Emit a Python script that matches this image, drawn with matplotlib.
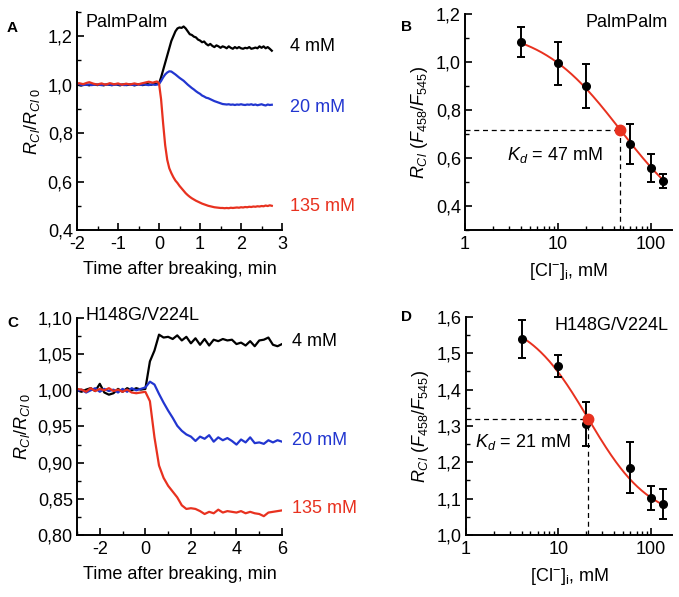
import numpy as np
import matplotlib
matplotlib.use('Agg')
import matplotlib.pyplot as plt
from matplotlib.ticker import MultipleLocator, FuncFormatter, LogLocator, NullFormatter

plt.rcParams['font.family'] = ['Liberation Sans', 'DejaVu Sans']
plt.rcParams['mathtext.fontset'] = 'custom'
plt.rcParams['mathtext.rm'] = 'Liberation Sans'
plt.rcParams['mathtext.it'] = 'Liberation Sans:italic'
plt.rcParams['font.size'] = 13
plt.rcParams['axes.unicode_minus'] = False

# ---- panel A data (PalmPalm traces), time in min ----
t_a = np.round(np.arange(-2.0, 2.751, 0.05), 2)
black_a = [1.000, 0.998, 0.996, 0.999, 1.001, 0.999, 0.997, 1.000, 1.002, 1.000,
           0.998, 1.001, 0.999, 0.997, 1.000, 1.001, 0.999, 0.998, 1.000, 1.002,
           0.999, 0.997, 1.000, 1.001, 0.998, 0.999, 1.001, 1.000, 0.997, 0.999,
           1.002, 1.000, 0.998, 1.000, 1.003, 1.001, 0.999, 1.002, 1.004, 1.003,
           1.005, 1.030, 1.060, 1.090, 1.120, 1.150, 1.180, 1.200, 1.220, 1.232,
           1.236, 1.234, 1.240, 1.232, 1.220, 1.208, 1.205, 1.198, 1.195, 1.186,
           1.182, 1.175, 1.178, 1.168, 1.162, 1.168, 1.160, 1.155, 1.162, 1.158,
           1.152, 1.158, 1.155, 1.150, 1.158, 1.152, 1.148, 1.155, 1.150, 1.155,
           1.150, 1.148, 1.152, 1.150, 1.155, 1.148, 1.150, 1.153, 1.150, 1.158,
           1.152, 1.158, 1.150, 1.155, 1.148, 1.140]
blue_a = [1.005, 1.002, 0.999, 0.998, 1.000, 0.999, 1.001, 0.998, 0.999, 1.000,
          1.001, 0.999, 0.998, 1.000, 0.999, 1.001, 1.000, 0.998, 0.999, 1.000,
          1.001, 0.999, 1.000, 0.998, 0.999, 1.001, 1.000, 0.999, 0.998, 1.000,
          1.001, 0.999, 1.000, 1.001, 0.999, 0.998, 1.000, 1.001, 0.999, 1.000,
          1.003, 1.015, 1.030, 1.042, 1.050, 1.055, 1.054, 1.048, 1.042, 1.035,
          1.028, 1.022, 1.016, 1.008, 1.000, 0.993, 0.986, 0.980, 0.973, 0.967,
          0.962, 0.955, 0.951, 0.946, 0.944, 0.940, 0.936, 0.932, 0.929, 0.926,
          0.923, 0.920, 0.919, 0.918, 0.919, 0.917, 0.918, 0.916, 0.918, 0.917,
          0.919, 0.917, 0.916, 0.918, 0.917, 0.919, 0.916, 0.918, 0.915, 0.917,
          0.919, 0.916, 0.914, 0.918, 0.916, 0.917]
red_a = [1.003, 1.006, 1.004, 1.002, 1.005, 1.008, 1.010, 1.007, 1.004, 1.002,
         1.000, 1.003, 1.005, 1.002, 1.000, 1.003, 1.006, 1.004, 1.001, 1.003,
         1.005, 1.002, 1.000, 1.002, 1.004, 1.002, 1.001, 1.003, 1.005, 1.003,
         1.001, 1.004, 1.006, 1.008, 1.010, 1.012, 1.010, 1.008, 1.011, 1.013,
         1.005, 0.940, 0.840, 0.750, 0.690, 0.655, 0.635, 0.618, 0.604, 0.594,
         0.582, 0.572, 0.562, 0.552, 0.544, 0.537, 0.531, 0.526, 0.521, 0.517,
         0.513, 0.509, 0.506, 0.503, 0.500, 0.498, 0.496, 0.494, 0.493, 0.492,
         0.491, 0.491, 0.490, 0.491, 0.490, 0.492, 0.491, 0.492, 0.493, 0.492,
         0.494, 0.493, 0.495, 0.494, 0.496, 0.495, 0.497, 0.496, 0.498, 0.497,
         0.499, 0.498, 0.501, 0.499, 0.502, 0.500]

# ---- panel C data (H148G/V224L traces) ----
t_c = np.round(np.arange(-3.0, 6.01, 0.2), 2)
black_c = [1.000, 0.998, 1.001, 1.003, 0.999, 1.009, 0.997, 0.994, 0.996, 1.002,
           0.998, 1.003, 1.000, 1.003, 1.001,
           1.002, 1.040, 1.055, 1.077, 1.073, 1.074, 1.071, 1.076, 1.069, 1.074,
           1.065, 1.072, 1.063, 1.071, 1.062, 1.070, 1.068, 1.071, 1.069, 1.070,
           1.064, 1.066, 1.062, 1.068, 1.061, 1.069, 1.070, 1.073, 1.063, 1.061,
           1.064]
blue_c = [0.999, 1.001, 0.997, 1.000, 1.003, 0.998, 1.002, 0.999, 1.001, 0.997,
          1.002, 0.998, 1.003, 1.000, 1.002,
          1.004, 1.012, 1.008, 0.995, 0.983, 0.972, 0.962, 0.951, 0.944, 0.939,
          0.936, 0.930, 0.936, 0.933, 0.938, 0.929, 0.935, 0.931, 0.934, 0.930,
          0.925, 0.932, 0.928, 0.935, 0.927, 0.928, 0.926, 0.931, 0.928, 0.931,
          0.929]
red_c = [1.002, 1.001, 0.998, 1.003, 0.999, 1.002, 1.000, 1.003, 0.999, 1.001,
         0.998, 1.001, 0.997, 0.996, 0.997,
         0.998, 0.985, 0.935, 0.896, 0.879, 0.868, 0.860, 0.852, 0.841, 0.836,
         0.837, 0.836, 0.833, 0.829, 0.832, 0.830, 0.835, 0.831, 0.833, 0.832,
         0.831, 0.833, 0.830, 0.832, 0.830, 0.829, 0.826, 0.831, 0.832, 0.833,
         0.834]

# ---- panels B, D: titration points ----
cl = [4, 10, 20, 60, 100, 135]
r_b = [1.085, 0.995, 0.900, 0.660, 0.558, 0.505]
err_b = [0.062, 0.090, 0.093, 0.083, 0.057, 0.030]
r_d = [1.540, 1.465, 1.305, 1.185, 1.102, 1.085]
err_d = [0.052, 0.030, 0.060, 0.070, 0.034, 0.042]

# fitted binding curves
kd_b, rmax_b, rmin_b, n_b = 47.0, 1.147, 0.287, 1.0
kd_d, rmax_d, rmin_d, n_d = 21.0, 1.604, 1.037, 1.3

RED = '#e8311f'
BLUE = '#2236d0'

fig = plt.figure(figsize=(6.79, 5.97), dpi=100)
axA = fig.add_axes([0.1134, 0.6147, 0.302, 0.3653])
axB = fig.add_axes([0.685, 0.6147, 0.305, 0.3617])
axC = fig.add_axes([0.1134, 0.1039, 0.302, 0.3634])
axD = fig.add_axes([0.686, 0.1039, 0.304, 0.3651])


def style(ax):
    for s in ['top', 'right']:
        ax.spines[s].set_visible(False)
    for s in ['left', 'bottom']:
        ax.spines[s].set_linewidth(1.4)
    ax.tick_params(which='major', direction='in', length=5, width=1.2, labelsize=13, pad=3)
    ax.tick_params(which='minor', direction='in', length=3, width=1.0)
    ax.tick_params(axis='x', which='major', pad=4)


def comma(fmt):
    return FuncFormatter(lambda v, p: format(v, fmt).replace('.', ','))


# panel A
axA.plot(t_a, black_a, color='black', lw=1.6)
axA.plot(t_a, blue_a, color=BLUE, lw=1.6)
axA.plot(t_a, red_a, color=RED, lw=1.6)
axA.set_xlim(-2, 3)
axA.set_ylim(0.4, 1.3)
axA.xaxis.set_major_locator(MultipleLocator(1))
axA.xaxis.set_minor_locator(MultipleLocator(0.5))
axA.yaxis.set_major_locator(MultipleLocator(0.2))
axA.yaxis.set_minor_locator(MultipleLocator(0.1))
axA.yaxis.set_major_formatter(comma('.1f'))
style(axA)
axA.set_xlabel('Time after breaking, min', labelpad=6)
axA.set_ylabel(r'$R_{Cl}/R_{Cl\ 0}$', labelpad=4)
axA.text(3.2, 1.157, '4 mM', color='black', va='center', clip_on=False)
axA.text(3.2, 0.905, '20 mM', color=BLUE, va='center', clip_on=False)
axA.text(3.2, 0.497, '135 mM', color=RED, va='center', clip_on=False)
axA.text(0.04, 0.95, 'PalmPalm', transform=axA.transAxes, va='center')

# panel C
axC.plot(t_c, black_c, color='black', lw=1.6)
axC.plot(t_c, blue_c, color=BLUE, lw=1.6)
axC.plot(t_c, red_c, color=RED, lw=1.6)
axC.set_xlim(-3, 6)
axC.set_ylim(0.80, 1.10)
axC.xaxis.set_major_locator(MultipleLocator(2))
axC.xaxis.set_minor_locator(MultipleLocator(1))
axC.yaxis.set_major_locator(MultipleLocator(0.05))
axC.yaxis.set_minor_locator(MultipleLocator(0.025))
axC.yaxis.set_major_formatter(comma('.2f'))
style(axC)
axC.set_xlabel('Time after breaking, min', labelpad=6)
axC.set_ylabel(r'$R_{Cl}/R_{Cl\ 0}$', labelpad=4)
axC.text(6.44, 1.067, '4 mM', color='black', va='center', clip_on=False)
axC.text(6.44, 0.931, '20 mM', color=BLUE, va='center', clip_on=False)
axC.text(6.44, 0.837, '135 mM', color=RED, va='center', clip_on=False)
axC.text(0.04, 1.01, 'H148G/V224L', transform=axC.transAxes, va='center')


def titration(ax, r, err, kd, rmax, rmin, n, ylim, ymaj, ymin_step, kd_txt, kd_xy, label):
    xs = np.logspace(np.log10(cl[0]), np.log10(cl[-1]), 200)
    fit = rmin + (rmax - rmin) / (1 + (xs / kd) ** n)
    ykd = rmin + (rmax - rmin) / 2
    ax.plot(xs, fit, color=RED, lw=1.4, zorder=2)
    ax.plot([1, kd], [ykd, ykd], 'k--', lw=0.9, dashes=(4, 3), zorder=1)
    ax.plot([kd, kd], [ylim[0], ykd], 'k--', lw=0.9, dashes=(4, 3), zorder=1)
    ax.errorbar(cl, r, yerr=err, fmt='o', color='black', ms=5.5, elinewidth=1.4,
                capsize=3, capthick=1.4, zorder=3)
    ax.plot([kd], [ykd], 'o', color=RED, ms=7.5, zorder=4)
    ax.set_xscale('log')
    ax.set_xlim(1, 170)
    ax.set_ylim(*ylim)
    ax.xaxis.set_major_locator(LogLocator(base=10))
    ax.xaxis.set_minor_locator(LogLocator(base=10, subs=np.arange(2, 10)))
    ax.xaxis.set_major_formatter(FuncFormatter(lambda v, p: f'{v:g}'))
    ax.xaxis.set_minor_formatter(NullFormatter())
    ax.yaxis.set_major_locator(MultipleLocator(ymaj))
    ax.yaxis.set_minor_locator(MultipleLocator(ymin_step))
    ax.yaxis.set_major_formatter(comma('.1f'))
    style(ax)
    ax.set_xlabel(r'[Cl$^{\mathregular{-}}$]$_{\mathregular{i}}$, mM', labelpad=6)
    ax.set_ylabel(r'$R_{Cl}\ (F_{458}/F_{545})$', labelpad=4)
    ax.text(kd_xy[0], kd_xy[1], r'$K_d$' + ' = ' + kd_txt, va='center')
    ax.text(0.98, 0.96, label, transform=ax.transAxes, ha='right', va='center')


titration(axB, r_b, err_b, kd_b, rmax_b, rmin_b, n_b, (0.3, 1.2), 0.2, 0.1,
          '47 mM', (2.85, 0.6125), 'PalmPalm')
titration(axD, r_d, err_d, kd_d, rmax_d, rmin_d, n_d, (1.0, 1.6), 0.1, 0.05,
          '21 mM', (1.25, 1.257), 'H148G/V224L')

# panel letters
for lbl, x, y in [('A', 12, 28), ('B', 407, 27), ('C', 13, 323), ('D', 407, 317)]:
    fig.text(x / 679, 1 - y / 597, lbl, fontsize=11, fontweight='bold', ha='center', va='center')

fig.savefig('out.png', dpi=100)
